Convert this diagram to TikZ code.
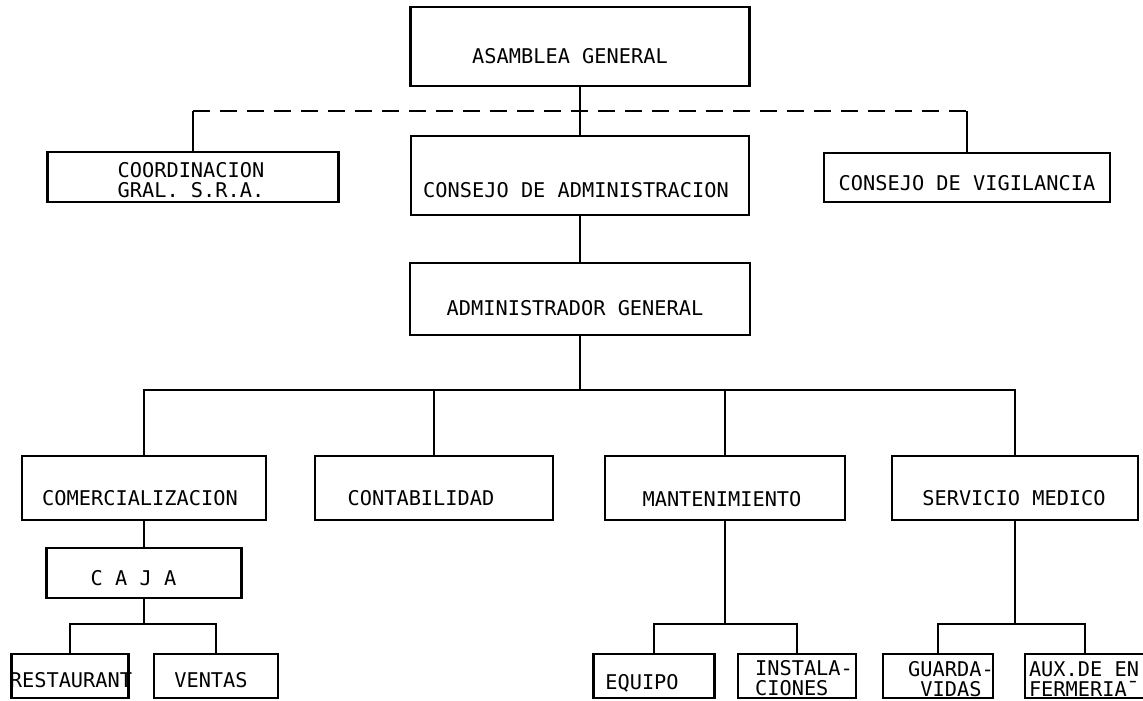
\documentclass[tikz,border=0pt]{standalone}
\usepackage{fontspec}
\newfontfamily\tw{DejaVu Sans Mono}
\begin{document}
\begin{tikzpicture}[x=1pt,y=-1pt,
  ln/.style={line width=2.3pt},
  dashline/.style={line width=2.3pt, dash pattern=on 17pt off 10pt},
  bx/.style={draw, line width=2.3pt, inner sep=0pt, fill=white},
  lbl/.style={font=\tw\fontsize{20.3pt}{20pt}\selectfont, inner sep=0pt, text height=14.8pt, text depth=0pt},
  lbltwo/.style={font=\tw\fontsize{20.3pt}{20.5pt}\selectfont, inner sep=0pt},
]
\useasboundingbox (0,0) rectangle (1143,701);
\fill[white] (0,0) rectangle (1143,701);

% coordinates of buses
\coordinate (dashy) at (580,111);
\coordinate (busA) at (580,390);
\coordinate (busB) at (144,624);
\coordinate (busC) at (725,624);
\coordinate (busD) at (1015,624);

% boxes
\node[bx, minimum width=339pt, minimum height=79pt] (asam) at (580,46.5) {};
\node[bx, minimum width=338pt, minimum height=79pt] (cons) at (580,175.5) {};
\node[bx, minimum width=340pt, minimum height=72pt] (adm) at (580,299) {};
\node[bx, minimum width=291pt, minimum height=50pt] (coord) at (193,177) {};
\node[bx, minimum width=286pt, minimum height=49pt] (vig) at (967,177.5) {};
\node[bx, minimum width=244pt, minimum height=64pt] (com) at (144,488) {};
\node[bx, minimum width=238pt, minimum height=64pt] (cont) at (434,488) {};
\node[bx, minimum width=240pt, minimum height=64pt] (mant) at (725,488) {};
\node[bx, minimum width=246pt, minimum height=64pt] (serv) at (1015,488) {};
\node[bx, minimum width=195pt, minimum height=50pt] (caja) at (144,573) {};
\node[bx, minimum width=117pt, minimum height=44pt] (rest) at (70,676) {};
\node[bx, minimum width=124pt, minimum height=44pt] (vent) at (216,676) {};
\node[bx, minimum width=121pt, minimum height=44pt] (equi) at (654,676) {};
\node[bx, minimum width=118pt, minimum height=44pt] (inst) at (797,676) {};
\node[bx, minimum width=110pt, minimum height=44pt] (guard) at (938,676) {};
\node[bx, minimum width=120pt, minimum height=44pt] (aux) at (1085,676) {};

% texts
\node[lbl] (asam-t) at (570,56) {ASAMBLEA GENERAL};
\node[lbl] (cons-t) at (576,190) {CONSEJO DE ADMINISTRACION};
\node[lbl] (adm-t) at (575,308) {ADMINISTRADOR GENERAL};
\node[lbltwo, align=left] (coord-t) at (191,180) {COORDINACION\\GRAL. S.R.A.};
\node[lbl] (vig-t) at (967,183) {CONSEJO DE VIGILANCIA};
\node[lbl] (com-t) at (140,498) {COMERCIALIZACION};
\node[lbl] (cont-t) at (421,498) {CONTABILIDAD};
\node[lbl] (mant-t) at (722,499) {MANTENIMIENTO};
\node[lbl] (serv-t) at (1014,498) {SERVICIO MEDICO};
\node[lbl] (caja-t) at (133.5,578) {C A J A};
\node[lbl] (rest-t) at (71,680) {RESTAURANT};
\node[lbl] (vent-t) at (211,680) {VENTAS};
\node[lbl] (equi-t) at (642,682) {EQUIPO};
\node[lbltwo, align=left] (inst-t) at (804,678) {INSTALA-\\ CIONES};
\node[lbltwo, align=center] (guard-t) at (951,679) {GUARDA-\\VIDAS};
\node[lbltwo, align=left] (aux-t) at (1084,679) {AUX.DE EN\\FERMERIA¯};

% dashed staff line
\draw[ln] (coord.north) -- (coord.north |- dashy);
\draw[dashline] (coord.north |- dashy) -- (vig.north |- dashy);
\draw[ln] (vig.north |- dashy) -- (vig.north);

% hierarchy connectors
\draw[ln] (asam.south) -- (asam.south |- cons.north);
\draw[ln] (cons.south) -- (cons.south |- adm.north);
\draw[ln] (adm.south) -- (adm.south |- busA);
\draw[ln] (com.north) |- (busA) -| (serv.north);
\draw[ln] (cont.north) -- (cont.north |- busA);
\draw[ln] (mant.north) -- (mant.north |- busA);

\draw[ln] (com.south) -- (com.south |- caja.north);
\draw[ln] (caja.south) -- (caja.south |- busB);
\draw[ln] (rest.north) |- (busB) -| (vent.north);

\draw[ln] (mant.south) -- (mant.south |- busC);
\draw[ln] (equi.north) |- (busC) -| (inst.north);

\draw[ln] (serv.south) -- (serv.south |- busD);
\draw[ln] (guard.north) |- (busD) -| (aux.north);
\end{tikzpicture}
\end{document}
